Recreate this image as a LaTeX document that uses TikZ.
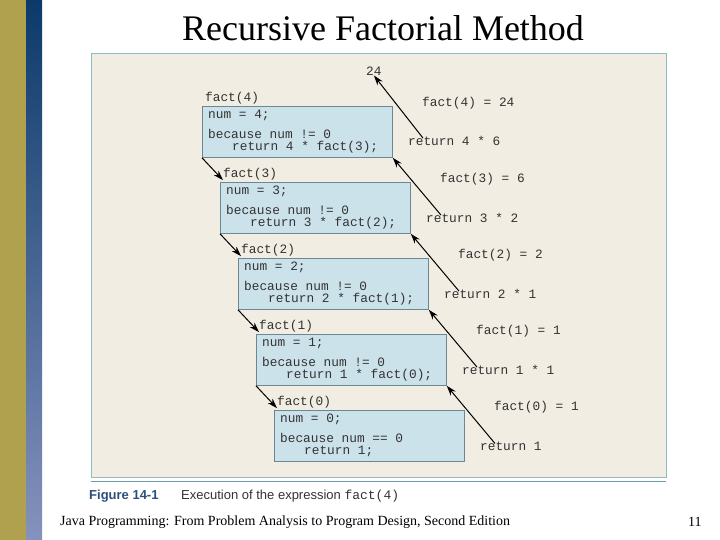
\documentclass[tikz,border=0pt]{standalone}
\usepackage{fontspec}
\setmainfont{Liberation Serif}
\newfontfamily\codef{Liberation Mono}
\newfontfamily\capf{Liberation Sans}
\usetikzlibrary{arrows.meta}
\definecolor{olive}{HTML}{B0A14F}
\definecolor{navy}{HTML}{0B3A6A}
\definecolor{lav}{HTML}{8592BD}
\definecolor{panel}{HTML}{F1EDE3}
\definecolor{panelb}{HTML}{8DBDBF}
\definecolor{boxf}{HTML}{CCE2EA}
\definecolor{boxb}{HTML}{6C8794}
\definecolor{codec}{HTML}{333333}
\definecolor{capc}{HTML}{2C4F7A}
\tikzset{
 callbox/.style={draw=boxb,fill=boxf,line width=0.8pt,minimum width=190pt,minimum height=51pt,inner sep=0pt,anchor=north west},
 code/.style={font=\codef\fontsize{12.8}{14}\selectfont,text=codec,anchor=west,inner sep=0pt},
 arr/.style={-{Stealth[length=10pt,width=6.5pt]},line width=1pt}
}
\begin{document}
\begin{tikzpicture}[x=1pt,y=-1pt]
\useasboundingbox (0,0) rectangle (720,540);
\fill[white] (0,0) rectangle (720,540);
\fill[olive] (0,0) rectangle (26,540);
\shade[top color=navy,bottom color=lav] (26,0) rectangle (42,540);
\node[font=\fontsize{36}{38}\selectfont] (title) at (383,28) {Recursive Factorial Method};
\draw[panelb,fill=panel,line width=1pt] (91,54) rectangle (666,477);
\draw[panelb!70!capc,line width=0.8pt] (91,481) -- (666,481);
\node[code] (top) at (366,71) {24};
\foreach \i/\n/\v/\r [count=\k from 0] in {4/4/24/4 * 6,3/3/6/3 * 2,2/2/2/2 * 1,1/1/1/1 * 1,0/0/1/1}{
  \pgfmathsetmacro\bx{202+18*\k}
  \pgfmathsetmacro\by{106+76*\k}
  \node[callbox] (b\i) at (\bx,\by) {};
  \node[code] (l\i) at (\bx+3,\by-8) {fact(\i)};
  \node[code] at (\bx+6,\by+9) {num = \i;};
  \node[code] (f\i) at (\bx+220,\by-3) {fact(\i) = \v};
}
\foreach \i [count=\k from 0] in {4,3,2,1}{
  \pgfmathsetmacro\bx{202+18*\k}
  \pgfmathsetmacro\by{106+76*\k}
  \node[code] at (\bx+6,\by+28) {because num != 0};
  \node[code] at (\bx+30,\by+41) {return \i\ * fact(\the\numexpr\i-1\relax);};
}
\node[code] at (280,438) {because num == 0};
\node[code] at (304,451) {return 1;};
\node[code] (r4) at (408,141) {return 4 * 6};
\node[code] (r3) at (426,218) {return 3 * 2};
\node[code] (r2) at (444,294) {return 2 * 1};
\node[code] (r1) at (462,370) {return 1 * 1};
\node[code] (r0) at (480,446) {return 1};
\draw[arr] (b4.south west) -- (l3.south west);
\draw[arr] (b3.south west) -- (l2.south west);
\draw[arr] (b2.south west) -- (l1.south west);
\draw[arr] (b1.south west) -- (l0.south west);
\draw[arr] ([xshift=15pt,yshift=-2pt]r4.north west) -- (top.south);
\draw[arr] ([xshift=15pt,yshift=-2pt]r3.north west) -- (b4.south east);
\draw[arr] ([xshift=15pt,yshift=-2pt]r2.north west) -- (b3.south east);
\draw[arr] ([xshift=15pt,yshift=-2pt]r1.north west) -- (b2.south east);
\draw[arr] ([xshift=15pt,yshift=-2pt]r0.north west) -- (b1.south east);
\node[anchor=west,inner sep=0pt,font=\capf\bfseries\fontsize{13}{15}\selectfont,text=capc] (cap) at (89,496) {Figure 14-1};
\node[anchor=west,inner sep=0pt,font=\capf\fontsize{13}{15}\selectfont,text=codec] (capt) at (181,496) {Execution of the expression {\codef fact(4)}};
\node[anchor=west,inner sep=0pt,font=\fontsize{14}{16}\selectfont] (foot) at (60,522) {Java Programming: From Problem Analysis to Program Design, Second Edition};
\node[anchor=west,inner sep=0pt,font=\fontsize{14}{16}\selectfont] (pg) at (688,522) {11};
\end{tikzpicture}
\end{document}
